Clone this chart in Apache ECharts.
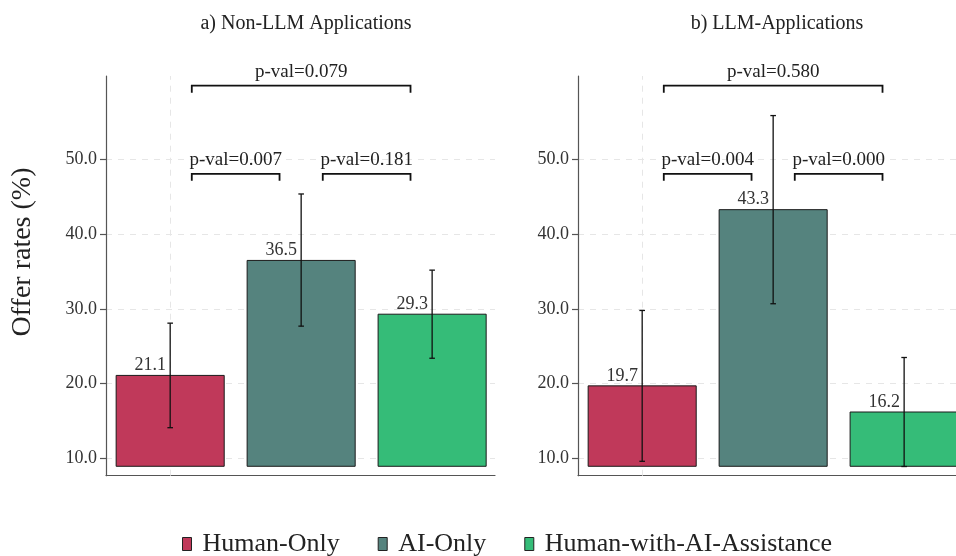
<!DOCTYPE html>
<html><head><meta charset="utf-8">
<script src="https://cdn.jsdelivr.net/npm/echarts@6/dist/echarts.min.js"></script>
<style>html,body{margin:0;padding:0;background:#fff}#c{width:956px;height:556px}</style>
</head><body><div id="c"></div>
<script>
// ---- data ----
const groups = ['Human-Only', 'AI-Only', 'Human-with-AI-Assistance'];
const panelTitles = ['a) Non-LLM Applications', 'b) LLM-Applications'];
const rateNonLLM = [21.1, 36.5, 29.3];
const lowNonLLM  = [14.1, 27.7, 23.4];
const highNonLLM = [28.1, 45.4, 35.2];
const rateLLM = [19.7, 43.3, 16.2];
const lowLLM  = [9.6, 30.7, 8.9];
const highLLM = [29.8, 55.9, 23.5];
const pairs = [[0, 1], [1, 2], [0, 2]];
const pvalNonLLM = ['0.007', '0.181', '0.079'];
const pvalLLM    = ['0.004', '0.000', '0.580'];
const bracketLevel = [48.1, 48.1, 59.9];
const yTicks = [10, 20, 30, 40, 50];
const barBase = 8.93;

// ---- style ----
const colors = ['#C0395A', '#55837E', '#35BC78'];
const FONT = '"Liberation Serif", "Times New Roman", serif';
const BAR_HALF = 0.4125;
const INSET = 0.165;
const axisColor = '#555';
const gridColor = '#e6e6e6';

const panels = [
  {rate: rateNonLLM, low: lowNonLLM, high: highNonLLM, pval: pvalNonLLM},
  {rate: rateLLM, low: lowLLM, high: highLLM, pval: pvalLLM}
];

const chart = echarts.init(document.getElementById('c'), null, {renderer: 'canvas'});

function renderBar(params, api) {
  const x = api.value(0), v = api.value(1);
  const p0 = api.coord([x - BAR_HALF, barBase]);
  const p1 = api.coord([x + BAR_HALF, v]);
  const c = api.coord([x, v]);
  return {type: 'group', children: [
    {type: 'rect', shape: {x: p0[0], y: p1[1], width: p1[0] - p0[0], height: p0[1] - p1[1]},
     style: {fill: api.visual('color'), stroke: '#1a1a1a', lineWidth: 1}},
    {type: 'text', x: c[0] - 20, y: p1[1] - 1,
     style: {text: v.toFixed(1), align: 'center', verticalAlign: 'bottom', fontFamily: FONT, fontSize: 18, fill: '#333'}}
  ]};
}

function renderErr(params, api) {
  const x = api.value(0);
  const lo = api.coord([x, api.value(1)]);
  const hi = api.coord([x, api.value(2)]);
  const cw = 2.8;
  const st = {stroke: '#111', lineWidth: 1.3};
  return {type: 'group', children: [
    {type: 'line', shape: {x1: lo[0], y1: lo[1], x2: hi[0], y2: hi[1]}, style: st},
    {type: 'line', shape: {x1: hi[0] - cw, y1: hi[1], x2: hi[0] + cw, y2: hi[1]}, style: st},
    {type: 'line', shape: {x1: lo[0] - cw, y1: lo[1], x2: lo[0] + cw, y2: lo[1]}, style: st}
  ]};
}

function makeBracketRenderer(pv) {
  return function (params, api) {
    const i = params.dataIndex;
    const a = api.coord([api.value(0) + INSET, api.value(2)]);
    const b = api.coord([api.value(1) - INSET, api.value(2)]);
    const leg = 7;
    const st = {stroke: '#111', lineWidth: 1.8, fill: 'none'};
    return {type: 'group', children: [
      {type: 'polyline', shape: {points: [[a[0], a[1] + leg], [a[0], a[1]], [b[0], b[1]], [b[0], b[1] + leg]]}, style: st},
      {type: 'text', x: (a[0] + b[0]) / 2, y: a[1] - 4,
       style: {text: 'p-val=' + pv[i], align: 'center', verticalAlign: 'bottom', fontFamily: FONT, fontSize: 19, fill: '#222'}}
    ]};
  };
}

const series = [];
panels.forEach((p, pi) => {
  series.push({
    type: 'line', xAxisIndex: pi, yAxisIndex: pi, data: [], z: 1, zlevel: 0, silent: true,
    markLine: {silent: true, symbol: 'none', label: {show: false}, z: 1,
      lineStyle: {type: [6, 6], color: gridColor, width: 1}, data: [{xAxis: 0}]}
  });
  groups.forEach((g, gi) => {
    series.push({
      type: 'custom', name: g, xAxisIndex: pi, yAxisIndex: pi, z: 10,
      itemStyle: {color: colors[gi], borderColor: '#222', borderWidth: 1},
      renderItem: renderBar,
      data: [[gi, p.rate[gi]]]
    });
  });
  series.push({
    type: 'custom', xAxisIndex: pi, yAxisIndex: pi, z: 12, silent: true,
    renderItem: renderErr,
    data: groups.map((g, gi) => [gi, p.low[gi], p.high[gi]])
  });
  series.push({
    type: 'custom', xAxisIndex: pi, yAxisIndex: pi, z: 12, silent: true,
    renderItem: makeBracketRenderer(p.pval),
    data: pairs.map((pr, k) => [pr[0], pr[1], bracketLevel[k]])
  });
});

const grids = [
  {left: 106, top: 76, width: 389, height: 399.7, outerBoundsMode: 'none', containLabel: false},
  {left: 578, top: 76, width: 389, height: 399.7, outerBoundsMode: 'none', containLabel: false}
];

const xAxes = grids.map((g, i) => ({
  type: 'value', gridIndex: i, min: -0.49, max: 2.48,
  axisLine: {show: true, onZero: false, lineStyle: {color: axisColor, width: 1.2}},
  axisTick: {show: false}, axisLabel: {show: false}, splitLine: {show: false}
}));

const yAxes = grids.map((g, i) => ({
  type: 'value', gridIndex: i, min: 7.67, max: 61.2,
  axisLine: {show: true, onZero: false, lineStyle: {color: axisColor, width: 1.2}},
  axisTick: {show: true, length: 6, customValues: yTicks, lineStyle: {color: axisColor, width: 1.2}},
  axisLabel: {customValues: yTicks, formatter: v => v.toFixed(1), fontFamily: FONT, fontSize: 18, color: '#333', margin: 9},
  splitLine: {show: true, lineStyle: {type: [6, 6], color: gridColor, width: 1}}
}));

chart.setOption({
  animation: false,
  backgroundColor: '#fff',
  title: [
    {text: panelTitles[0], left: 301, top: 9, textAlign: 'center',
     textStyle: {fontFamily: FONT, fontSize: 20, fontWeight: 'normal', color: '#222'}},
    {text: panelTitles[1], left: 772, top: 9, textAlign: 'center',
     textStyle: {fontFamily: FONT, fontSize: 20, fontWeight: 'normal', color: '#222'}}
  ],
  graphic: [{
    type: 'text', x: 23, y: 252, rotation: Math.PI / 2,
    style: {text: 'Offer rates (%)', align: 'center', verticalAlign: 'middle', fontFamily: FONT, fontSize: 28, fill: '#222'}
  }],
  legend: {
    data: groups, left: 182, top: 531, padding: 0, icon: 'rect', itemWidth: 9, itemHeight: 13, itemGap: 38,
    itemStyle: {borderColor: '#222', borderWidth: 1},
    textStyle: {fontFamily: FONT, fontSize: 26, color: '#222', padding: [0, 0, 0, 6]}
  },
  grid: grids,
  xAxis: xAxes,
  yAxis: yAxes,
  series: series
});
</script>
</body></html>
